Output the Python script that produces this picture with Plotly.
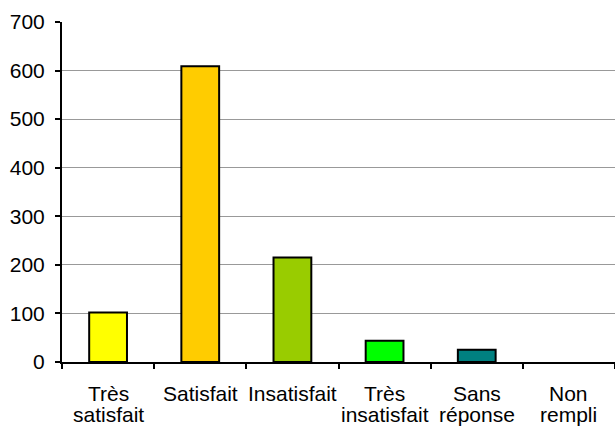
import plotly.graph_objects as go

categories = ["Très<br>satisfait", "Satisfait", "Insatisfait", "Très<br>insatisfait", "Sans<br>réponse", "Non<br>rempli"]
values = [102, 609, 215, 44, 25, None]
colors = ["#FFFF00", "#FFCC00", "#99CC00", "#00FF00", "#008080", "#9999FF"]
y_ticks = [0, 100, 200, 300, 400, 500, 600, 700]

fig = go.Figure(go.Bar(
    x=categories,
    y=values,
    marker=dict(color=colors, line=dict(color="black", width=2)),
))

font = dict(family="Liberation Sans", size=21, color="black")

# category labels: each line placed separately for tighter line spacing
for cat in categories:
    for k, line in enumerate(cat.split("<br>")):
        fig.add_annotation(
            x=cat, xref="x", y=0, yref="paper",
            text=line, showarrow=False, font=font,
            xanchor="center", yanchor="middle",
            yshift=-(31 + 21.5 * k),
        )

fig.update_layout(
    width=615, height=430,
    margin=dict(l=62, r=0, t=22, b=68),
    paper_bgcolor="white",
    plot_bgcolor="white",
    bargap=0.59,
    showlegend=False,
    font=font,
)
fig.update_yaxes(
    range=[0, 700], tickvals=y_ticks,
    showgrid=True, gridcolor="#999999", gridwidth=1,
    showline=True, linecolor="black", linewidth=2,
    ticks="outside", ticklen=5, tickwidth=2, tickcolor="black",
    zeroline=False, tickfont=font, automargin=False,
    ticklabelstandoff=6,
)
fig.update_xaxes(
    type="category", range=[-0.5, 5.5],
    showline=True, linecolor="black", linewidth=2,
    ticks="outside", ticklen=5, tickwidth=2, tickcolor="black",
    tickson="boundaries", showticklabels=False, showgrid=False,
    automargin=False,
)

# remove the browser's default 8px body margin so the figure fills the window
fig.write_html(
    "out.html",
    config={"displayModeBar": False},
    post_script="document.body.style.margin='0';",
)
